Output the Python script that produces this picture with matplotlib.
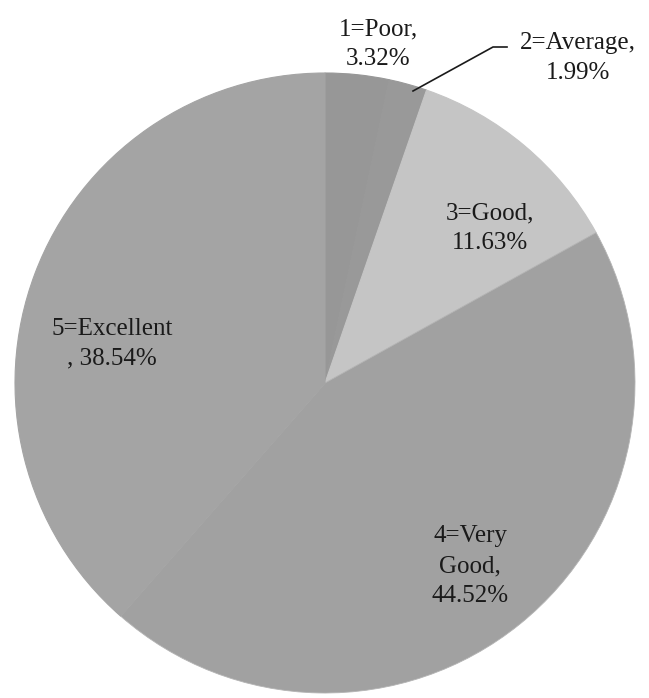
import matplotlib.pyplot as plt

# 数据
categories = ['1=Poor', '2=Average', '3=Good', '4=Very Good', '5=Excellent']
percents = [3.32, 1.99, 11.63, 44.52, 38.54]
colors = ['#979797', '#999999', '#c5c5c5', '#a1a1a1', '#a4a4a4']

plt.rcParams['font.family'] = ['Liberation Serif', 'DejaVu Serif']

W, H = 649, 698
fig = plt.figure(figsize=(W / 100, H / 100), dpi=100)
ax = fig.add_axes([0, 0, 1, 1])

# 饼图 (y轴反转, 所以逆时针参数为True才是顺时针显示)
wedges, _ = ax.pie(percents, colors=colors, startangle=-90, counterclock=True,
                   center=(325, 383), radius=310, frame=True,
                   wedgeprops=dict(linewidth=0.8))
for w, c in zip(wedges, colors):
    w.set_edgecolor(c)
wedges[3].set_edgecolor('#b4b4b4')
wedges[3].set_linewidth(0.6)

ax.set_xlim(0, W)
ax.set_ylim(H, 0)
ax.set_aspect('equal')
ax.axis('off')

# 标签
fs = 18
txt = dict(fontsize=fs, ha='center', va='center', color='#1a1a1a', linespacing=1.45)
ax.text(378, 44, f'1=Poor,\n{percents[0]:.2f}%', **txt)
ax.text(578, 58, f'2=Average,\n{percents[1]:.2f}%', **txt)
ax.text(490, 228, f'3=Good,\n{percents[2]:.2f}%', **txt)
ax.text(470, 566, f'4=Very\nGood,\n{percents[3]:.2f}%', **txt)
ax.text(112, 344, f'5=Excellent\n, {percents[4]:.2f}%', **txt)

# 引导线
ax.plot([413, 493, 507], [91, 47, 47], color='#1a1a1a', lw=1.2)

fig.savefig('out.png', dpi=100)
